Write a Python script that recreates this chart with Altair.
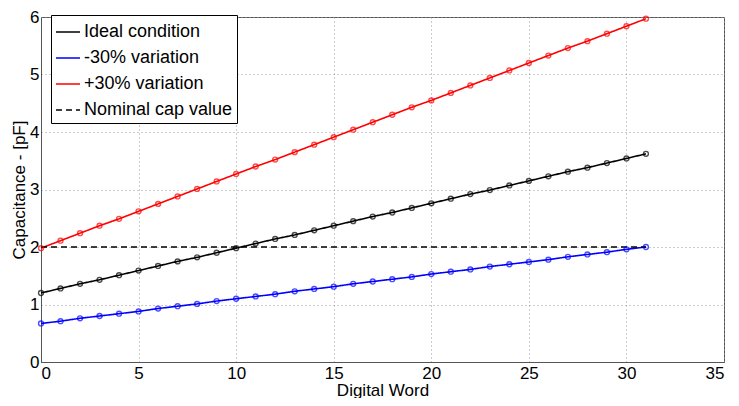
import altair as alt
import pandas as pd

series_names = ["Ideal condition", "-30% variation", "+30% variation", "Nominal cap value"]
colors = ["#000000", "#0000ff", "#ff0000", "#000000"]

digital_word = list(range(32))
ideal = [1.20, 1.28, 1.36, 1.43, 1.51, 1.59, 1.67, 1.75, 1.82, 1.90, 1.98, 2.06, 2.14, 2.21, 2.29, 2.37,
         2.45, 2.53, 2.60, 2.68, 2.76, 2.84, 2.92, 2.99, 3.07, 3.15, 3.23, 3.31, 3.38, 3.46, 3.54, 3.62]
minus30 = [0.67, 0.71, 0.76, 0.80, 0.84, 0.88, 0.93, 0.97, 1.01, 1.06, 1.10, 1.14, 1.18, 1.23, 1.27, 1.31,
           1.36, 1.40, 1.44, 1.48, 1.53, 1.57, 1.61, 1.66, 1.70, 1.74, 1.78, 1.83, 1.87, 1.91, 1.96, 2.00]
plus30 = [1.98, 2.11, 2.24, 2.37, 2.49, 2.62, 2.75, 2.88, 3.01, 3.14, 3.27, 3.40, 3.52, 3.65, 3.78, 3.91,
          4.04, 4.17, 4.30, 4.43, 4.55, 4.68, 4.81, 4.94, 5.07, 5.20, 5.33, 5.46, 5.58, 5.71, 5.84, 5.97]
nominal_x = [0, 31]
nominal_y = [2.0, 2.0]

rows = []
for name, vals in zip(series_names[:3], [ideal, minus30, plus30]):
    for k, v in zip(digital_word, vals):
        rows.append({"series": name, "k": k, "c": v})
for k, v in zip(nominal_x, nominal_y):
    rows.append({"series": series_names[3], "k": k, "c": v})
df = pd.DataFrame(rows)

font = "Liberation Sans"

x_enc = alt.X("k:Q", scale=alt.Scale(domain=[0, 35], nice=False),
              axis=alt.Axis(title="Digital Word", values=[0, 5, 10, 15, 20, 25, 30, 35], format="d"))
y_enc = alt.Y("c:Q", scale=alt.Scale(domain=[0, 6], nice=False),
              axis=alt.Axis(title="Capacitance - [pF]", values=[0, 1, 2, 3, 4, 5, 6], format="d"))

legend = alt.Legend(title=None, orient="none", legendX=10, legendY=-2,
                    symbolType="stroke", symbolStrokeWidth=1.5, symbolSize=576,
                    labelFontSize=18, labelFont=font, labelColor="black",
                    strokeColor="black", fillColor="white", padding=4, rowPadding=4,
                    labelLimit=300, labelOffset=3)

lines = alt.Chart(df).mark_line(strokeWidth=1.6).encode(
    x=x_enc, y=y_enc,
    color=alt.Color("series:N", scale=alt.Scale(domain=series_names, range=colors), legend=legend),
    strokeDash=alt.StrokeDash("series:N",
                              scale=alt.Scale(domain=series_names, range=[[1, 0], [1, 0], [1, 0], [6, 4]]),
                              legend=legend),
    detail="series:N",
)

points = alt.Chart(df).transform_filter(
    alt.datum.series != "Nominal cap value"
).mark_point(filled=False, size=24, strokeWidth=1.4).encode(
    x="k:Q", y="c:Q",
    stroke=alt.Stroke("series:N", scale=alt.Scale(domain=series_names, range=colors), legend=None),
)

chart = alt.layer(lines, points).properties(
    width=683, height=345,
    autosize=alt.AutoSizeParams(type="none"),
    padding={"left": 33, "top": 9, "right": 7, "bottom": 36},
).configure_axis(
    labelFont=font, titleFont=font, labelFontSize=17, titleFontSize=17,
    labelColor="black", titleColor="black", titleFontWeight="normal",
    grid=True, gridDash=[1, 3], gridColor="#999999", gridWidth=1,
    domainColor="#555555", ticks=False, labelPadding=2,
).configure_axisY(titlePadding=1).configure_axisX(titlePadding=1, labelPadding=3).configure_view(
    stroke="#555555", strokeWidth=1
)

chart.save("out.html", embed_options={"renderer": "svg", "actions": False})
